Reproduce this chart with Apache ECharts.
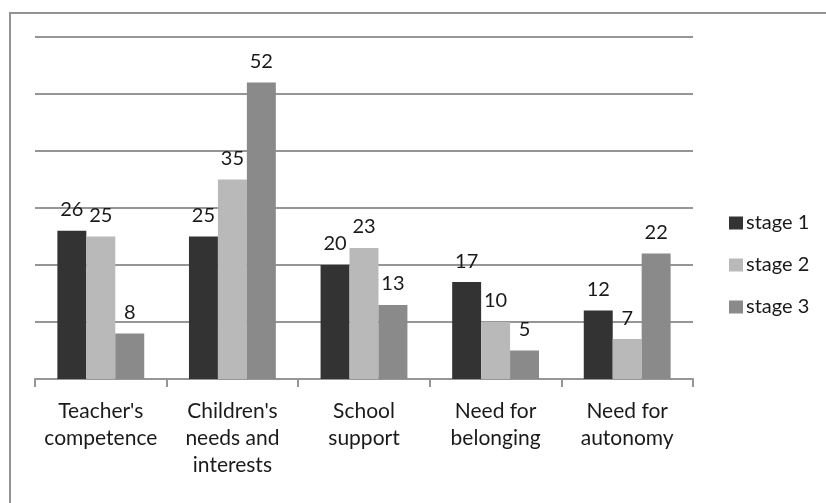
<!DOCTYPE html>
<html>
<head>
<meta charset="utf-8">
<script src="https://cdn.jsdelivr.net/npm/echarts@6/dist/echarts.min.js"></script>
<style>
  html, body { margin: 0; padding: 0; background: #fff; }
  #chart { width: 826px; height: 503px; }
</style>
</head>
<body>
<div id="chart"></div>
<script>
// Categories and the three survey stages
const categories = [
  "Teacher's\ncompetence",
  "Children's\nneeds and\ninterests",
  "School\nsupport",
  "Need for\nbelonging",
  "Need for\nautonomy"
];
const stage1 = [26, 25, 20, 17, 12];
const stage2 = [25, 35, 23, 10, 7];
const stage3 = [8, 52, 13, 5, 22];
const seriesNames = ['stage 1', 'stage 2', 'stage 3'];

const FONT = 'Lato';
const colors = ['#333333', '#b9b9b9', '#8a8a8a'];
const gridColor = '#969696';

const chart = echarts.init(document.getElementById('chart'), null, { renderer: 'canvas' });

function bar(name, data, color) {
  return {
    name: name,
    type: 'bar',
    data: data,
    barGap: '0%',
    barCategoryGap: '34%',
    itemStyle: { color: color },
    label: {
      show: true,
      position: 'top',
      distance: 11,
      fontFamily: FONT,
      fontSize: 20,
      color: '#1a1a1a'
    },
    emphasis: { disabled: true },
    animation: false
  };
}

chart.setOption({
  animation: false,
  color: colors,
  graphic: [{
    type: 'rect',
    shape: { x: 10, y: 13, width: 900, height: 600 },
    style: { fill: 'none', stroke: '#939393', lineWidth: 2 },
    silent: true
  }],
  grid: { left: 35, right: 133, top: 37, bottom: 124, containLabel: false },
  legend: {
    orient: 'vertical',
    left: 724,
    top: 208,
    itemWidth: 14,
    itemHeight: 13,
    itemGap: 22,
    icon: 'rect',
    data: seriesNames,
    textStyle: { fontFamily: FONT, fontSize: 20, color: '#1a1a1a', padding: [0, 0, 0, -2] },
    selectedMode: false
  },
  xAxis: {
    type: 'category',
    data: categories,
    boundaryGap: true,
    axisLine: { show: true, lineStyle: { color: gridColor, width: 2 } },
    axisTick: { show: true, length: 8, lineStyle: { color: gridColor, width: 2 } },
    axisLabel: {
      interval: 0,
      margin: 19,
      fontFamily: FONT,
      fontSize: 21,
      lineHeight: 27,
      color: '#1a1a1a',
      align: 'center',
      verticalAlign: 'top'
    }
  },
  yAxis: {
    type: 'value',
    min: 0,
    max: 60,
    interval: 10,
    axisLine: { show: false },
    axisTick: { show: false },
    axisLabel: { show: false },
    splitLine: { show: true, lineStyle: { color: gridColor, width: 2 } }
  },
  series: [
    bar(seriesNames[0], stage1, colors[0]),
    bar(seriesNames[1], stage2, colors[1]),
    bar(seriesNames[2], stage3, colors[2])
  ]
});
</script>
</body>
</html>
